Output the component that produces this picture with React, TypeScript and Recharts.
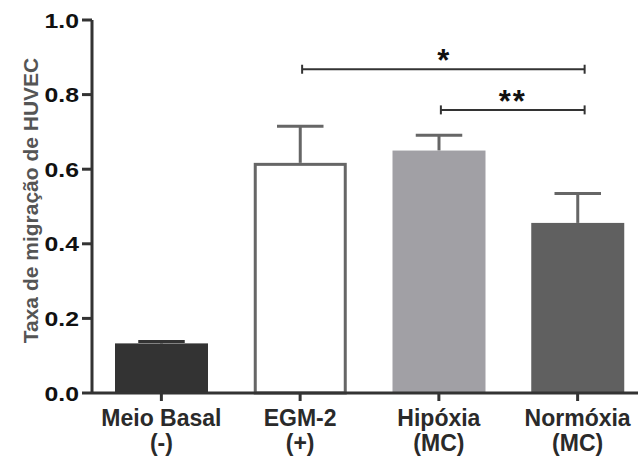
import React from 'react';
import { BarChart, Bar, XAxis, YAxis, ReferenceLine } from 'recharts';

const categories = ['Meio Basal', 'EGM-2', 'Hipóxia', 'Normóxia'];
const subLabels = ['(-)', '(+)', '(MC)', '(MC)'];
const means = [0.133, 0.617, 0.65, 0.456];
const sems = [0.005, 0.098, 0.041, 0.079];
const yTicks = [0, 0.2, 0.4, 0.6, 0.8, 1.0];
const comparisons = [
  { from: 'EGM-2', to: 'Normóxia', y: 0.868, label: '*' },
  { from: 'Hipóxia', to: 'Normóxia', y: 0.759, label: '**' },
];

const FILLS = ['#333333', '#ffffff', '#a1a0a5', '#606060'];
const ERR = ['#333333', '#666666', '#666666', '#666666'];
const FONT = '"Liberation Sans", Arial, sans-serif';

const data = categories.map((c, i) => ({ name: c, sub: subLabels[i], value: means[i], sem: sems[i], idx: i }));

function BarShape(props: any) {
  const { x, y, width, height, payload } = props;
  const i = payload.idx;
  const perUnit = height / payload.value;
  const errY = y - payload.sem * perUnit;
  const cx = x + width / 2;
  const capHalf = width / 4;
  const outlined = i === 1;
  return (
    <g>
      <line x1={cx} x2={cx} y1={y} y2={errY} stroke={ERR[i]} strokeWidth={3} />
      <line x1={cx - capHalf} x2={cx + capHalf} y1={errY} y2={errY} stroke={ERR[i]} strokeWidth={3} />
      {outlined ? (
        <rect x={x + 1.5} y={y + 1.5} width={width - 3} height={height - 1.5} fill="#ffffff" stroke="#666666" strokeWidth={3} />
      ) : (
        <rect x={x} y={y} width={width} height={height} fill={FILLS[i]} />
      )}
    </g>
  );
}

function XTick(props: any) {
  const { x, y, payload, index } = props;
  return (
    <text x={x} y={y} textAnchor="middle" fontFamily={FONT} fontWeight="bold" fontSize={23} fill="#2a2a2a">
      <tspan x={x} dy={23}>{payload.value}</tspan>
      <tspan x={x} dy={25}>{subLabels[index]}</tspan>
    </text>
  );
}

function YTick(props: any) {
  const { x, y, payload } = props;
  return (
    <text
      transform={`translate(${x + 1}, ${y}) scale(1.18, 1)`}
      x={0}
      y={0}
      dy={7.5}
      textAnchor="end"
      fontFamily={FONT}
      fontWeight="bold"
      fontSize={21}
      fill="#111111"
    >
      {Number(payload.value).toFixed(1)}
    </text>
  );
}

const makeBracket = (label: string) => (props: any) => {
  const { x1, x2, y1 } = props;
  const a = x1 + 2;
  const b = x2 + 7;
  return (
    <g>
      <line x1={a} x2={b} y1={y1} y2={y1} stroke="#333333" strokeWidth={2} />
      <line x1={a} x2={a} y1={y1 - 4.5} y2={y1 + 4.5} stroke="#333333" strokeWidth={2} />
      <line x1={b} x2={b} y1={y1 - 4.5} y2={y1 + 4.5} stroke="#333333" strokeWidth={2} />
      <text x={(a + b) / 2} y={y1 + 2} textAnchor="middle" fontFamily={FONT} fontWeight="bold" fontSize={31} fill="#111111" letterSpacing={label.length > 1 ? 2 : 0}>
        {label}
      </text>
    </g>
  );
};

function YLabel(props: any) {
  const vb = props.viewBox || { x: 0, y: 20, width: 92, height: 373 };
  const cx = vb.x + 38;
  const cy = vb.y + vb.height / 2 - 6;
  return (
    <text x={cx} y={cy} textAnchor="middle" transform={`rotate(-90, ${cx}, ${cy})`} fontFamily={FONT} fontWeight="bold" fontSize={21} fill="#555555">
      Taxa de migração de HUVEC
    </text>
  );
}

export default function App() {
  return (
    <div style={{ position: 'absolute', left: 0, top: 0, width: 638, height: 459, overflow: 'hidden', background: '#fff' }}>
      <BarChart width={647} height={459} data={data} margin={{ top: 20, right: 0, bottom: 0, left: 0 }} style={{ fontFamily: FONT }}>
        <XAxis
          dataKey="name"
          height={66}
          tickSize={8}
          interval={0}
          axisLine={{ stroke: '#333333', strokeWidth: 3 }}
          tickLine={{ stroke: '#333333', strokeWidth: 3 }}
          tick={<XTick />}
        />
        <YAxis
          width={92}
          domain={[0, 1]}
          ticks={yTicks}
          tickSize={10}
          tickMargin={4}
          axisLine={{ stroke: '#333333', strokeWidth: 3 }}
          tickLine={{ stroke: '#333333', strokeWidth: 3 }}
          tick={<YTick />}
          label={<YLabel />}
        />
        <Bar dataKey="value" barSize={93} isAnimationActive={false} shape={BarShape} />
        {comparisons.map((c) => (
          <ReferenceLine
            key={c.label}
            segment={[{ x: c.from, y: c.y }, { x: c.to, y: c.y }]}
            ifOverflow="visible"
            shape={makeBracket(c.label)}
          />
        ))}
      </BarChart>
    </div>
  );
}
